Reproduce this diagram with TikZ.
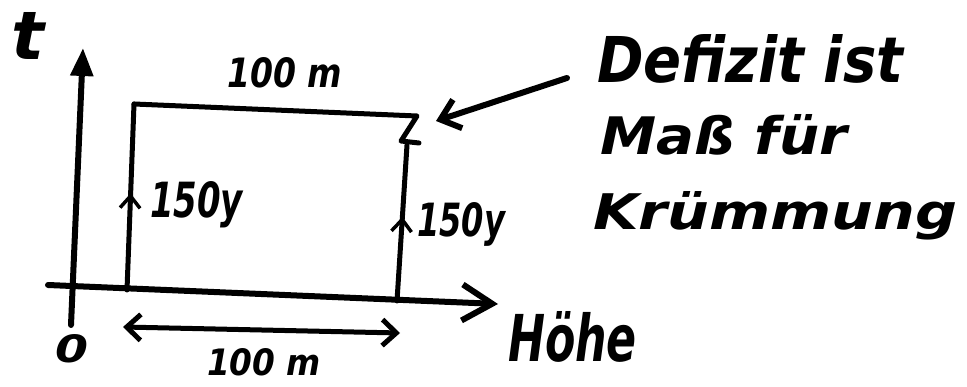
\documentclass[tikz,border=0pt]{standalone}
\usepackage{fontspec}
\setmainfont{DejaVu Sans}
\usetikzlibrary{arrows.meta,decorations.markings}
\newcommand{\hwtxt}[3]{\resizebox{#1}{#2}{\bfseries\itshape #3}}
\tikzset{
  axisline/.style={line width=6pt, line cap=round, line join=round},
  rectline/.style={line width=5pt, line cap=round, line join=round},
  bigtip/.style={-{Straight Barb[length=30pt,width=36pt,line width=6pt]}},
  smalltip/.style={-{Triangle[length=28pt,width=22pt]}},
  midarrow/.style={postaction={decorate},decoration={markings,
     mark=at position #1 with {\arrow{Straight Barb[length=12pt,width=20pt,line width=3.5pt]}}}},
  hw/.style={anchor=base west, inner sep=0pt, outer sep=0pt}
}
\begin{document}
\begin{tikzpicture}[x=1pt,y=-1pt]
\useasboundingbox (0,0) rectangle (967,387);
% coordinates
\coordinate (tbot) at (71,325);
\coordinate (ttop) at (83,48);
\coordinate (hleft) at (48,285);
\coordinate (htip) at (498,304);
\coordinate (bl) at (127,290);
\coordinate (tl) at (134,104);
\coordinate (tr) at (417,116);
\coordinate (zmid) at (401,141);
\coordinate (zend) at (419,143);
\coordinate (rtop) at (407,145);
\coordinate (br) at (397,301);
\coordinate (dl) at (123,327);
\coordinate (dr) at (400,333);
\coordinate (notestart) at (567,78);
\coordinate (notetip) at (436,121);
% axes
\draw[axisline,smalltip] (tbot) -- (ttop);
\draw[axisline,bigtip] (hleft) -- (htip);
% rectangle
\draw[rectline,midarrow=0.52] (bl) -- (tl);
\draw[rectline] (tl) -- (tr) -- (zmid) -- (zend);
\draw[rectline,midarrow=0.54] (br) -- (rtop);
% dimension arrow
\draw[rectline,{Straight Barb[length=14pt,width=26pt,line width=5pt]}-{Straight Barb[length=14pt,width=26pt,line width=5pt]}] (dl) -- (dr);
% pointer arrow
\draw[axisline,-{Straight Barb[length=18pt,width=30pt,line width=6pt]}] (notestart) -- (notetip);
% labels
\node[hw] (lt) at (12,60) {\hwtxt{33pt}{47pt}{t}};
\node[hw] (ltop) at (227,88) {\hwtxt{115pt}{30pt}{100 m}};
\node[hw] (lleft) at (150,218) {\hwtxt{93pt}{36pt}{150y}};
\node[hw] (lright) at (417,237) {\hwtxt{88pt}{34pt}{150y}};
\node[hw] (lzero) at (55,363) {\hwtxt{33pt}{28pt}{0}};
\node[hw] (lbot) at (207,376) {\hwtxt{114pt}{27pt}{100 m}};
\node[hw] (lhoehe) at (508,362) {\hwtxt{129pt}{50pt}{Höhe}};
\node[hw] (n1) at (597,83) {\hwtxt{306pt}{48pt}{Defizit ist}};
\node[hw] (n2) at (600,155) {\hwtxt{247pt}{40pt}{Maß für}};
\node[hw] (n3) at (593,230) {\hwtxt{364pt}{38pt}{Krümmung}};
\end{tikzpicture}
\end{document}
